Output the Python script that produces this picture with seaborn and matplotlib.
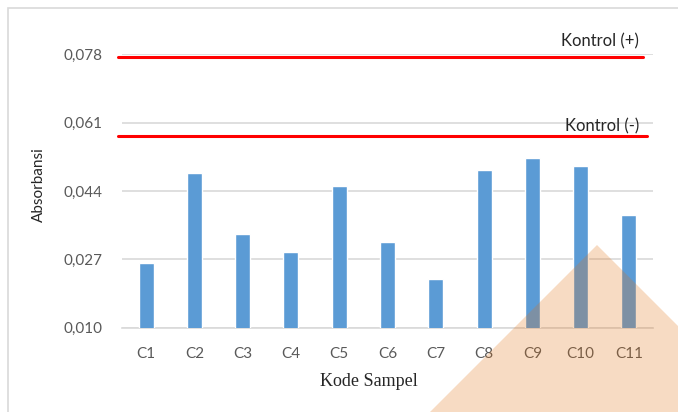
import matplotlib
matplotlib.use("Agg")
import matplotlib.pyplot as plt
import seaborn as sns
import pandas as pd
from matplotlib.patches import Polygon, Rectangle

# Sample absorbance readings
samples = ["C1", "C2", "C3", "C4", "C5", "C6", "C7", "C8", "C9", "C10", "C11"]
absorbance = [0.0261, 0.0484, 0.0332, 0.0289, 0.0452, 0.0312, 0.0221, 0.0492, 0.0522, 0.0503, 0.0380]

# Control reference levels
kontrol_pos = 0.0774
kontrol_neg = 0.0578

y_ticks = [0.010, 0.027, 0.044, 0.061, 0.078]
y_tick_labels = ["0,010", "0,027", "0,044", "0,061", "0,078"]

df = pd.DataFrame({"Kode Sampel": samples, "Absorbansi": absorbance})

sns.set_theme(style="white")
plt.rcParams["font.family"] = ["Lato", "DejaVu Sans"]

W, H = 678, 412
fig = plt.figure(figsize=(W / 100, H / 100), dpi=100)
ax = fig.add_axes([122 / W, 1 - 327.7 / H, (653 - 122) / W, (327.7 - 54.3) / H])

sns.barplot(data=df, x="Kode Sampel", y="Absorbansi", color="#5B9BD5",
            width=0.31, saturation=1, ax=ax, zorder=3)

ax.set_ylim(0.010, 0.078)
ax.set_xlim(-0.5, len(samples) - 0.5)
ax.set_yticks(y_ticks)
ax.set_yticklabels(y_tick_labels)
ax.yaxis.grid(True, color="#D9D9D9", linewidth=1.2, zorder=0)
ax.set_axisbelow(True)
for s in ["top", "right", "left"]:
    ax.spines[s].set_visible(False)
ax.spines["bottom"].set_color("#D9D9D9")
ax.spines["bottom"].set_linewidth(1.2)
ax.tick_params(axis="both", length=0, labelsize=11, labelcolor="#595959")
ax.tick_params(axis="x", pad=14)
ax.tick_params(axis="y", pad=14)

# Axis titles
ax.set_ylabel("")
ax.set_xlabel("")
fig.text(39 / W, 1 - 185 / H, "Absorbansi", ha="center", va="center",
         rotation=90, fontsize=11, color="#262626")
fig.text(368.5 / W, 1 - 381 / H, "Kode Sampel", ha="center", va="center",
         fontsize=13, color="#262626", family=["Liberation Serif"])

# Control lines
xmin_line = -0.5 - 4 / 48
ax.plot([xmin_line, len(samples) - 0.5 - 10 / 48], [kontrol_pos, kontrol_pos],
        color="#FF0000", lw=2.2, clip_on=False, zorder=4)
ax.plot([xmin_line, len(samples) - 0.5 - 6 / 48], [kontrol_neg, kontrol_neg],
        color="#FF0000", lw=2.2, clip_on=False, zorder=4)
ax.text(10.21, kontrol_pos + 0.0037, "Kontrol (+)", ha="right", va="center",
        fontsize=12, color="#262626", zorder=5)
ax.text(10.21, kontrol_neg + 0.0022, "Kontrol (-)", ha="right", va="center",
        fontsize=12, color="#262626", zorder=1)

# Outer chart border
fig.patches.append(Rectangle((8 / W, -0.05), 1.0, 1 - 8 / H + 0.05,
                             transform=fig.transFigure, fill=False,
                             edgecolor="#D9D9D9", lw=1.2, zorder=0))

# Decorative triangle in the lower right corner
tri = [(430, 412), (597, 245), (764, 412)]
fig.patches.append(Polygon([(x / W, 1 - y / H) for x, y in tri], closed=True,
                           transform=fig.transFigure, facecolor=(0.89, 0.45, 0.075),
                           alpha=0.25, edgecolor="none", zorder=10))

fig.savefig("out.png", dpi=100)
